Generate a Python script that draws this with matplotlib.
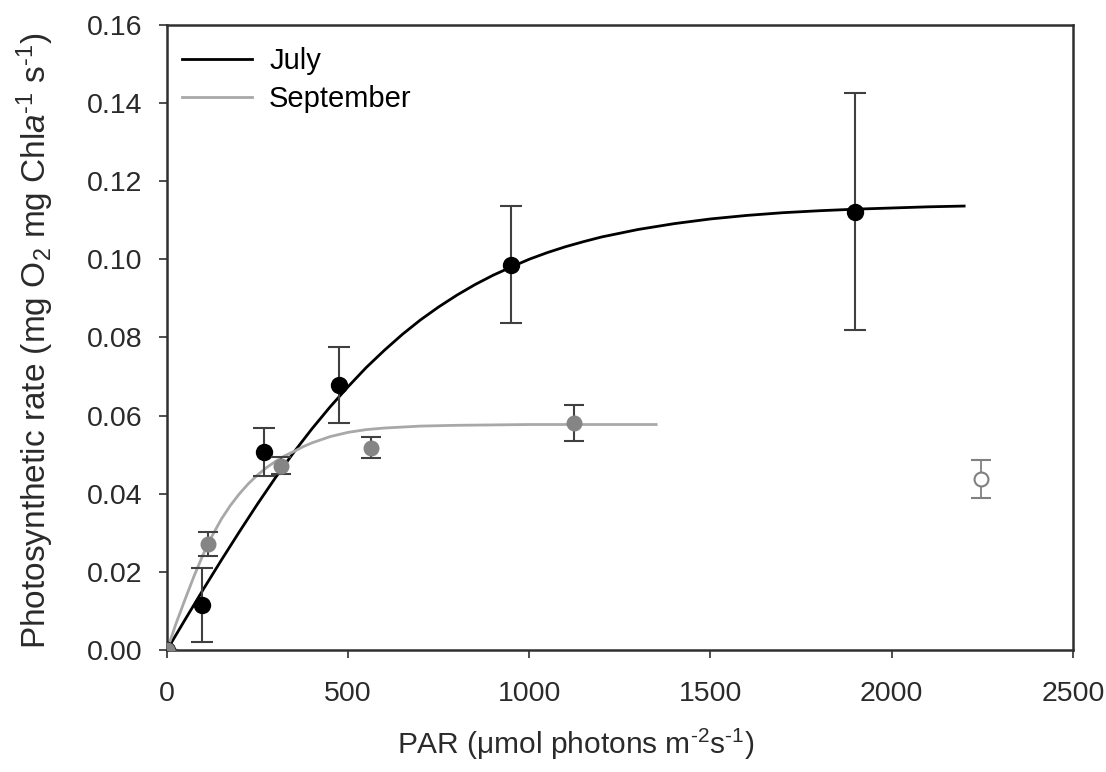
import matplotlib
matplotlib.use("Agg")
import matplotlib.pyplot as plt

plt.rcParams["font.family"] = ["Liberation Sans", "DejaVu Sans"]
plt.rcParams["mathtext.fontset"] = "custom"
plt.rcParams["mathtext.rm"] = "Liberation Sans"
plt.rcParams["mathtext.it"] = "Liberation Sans:italic"

# measured points (PAR, rate, error)
july_par = [0, 97, 268, 475, 950, 1900]
july_rate = [0.0, 0.0115, 0.0507, 0.0678, 0.0986, 0.1122]
july_err = [0.0, 0.0095, 0.0061, 0.0098, 0.0149, 0.0302]

sept_par = [0, 113, 315, 563, 1124]
sept_rate = [0.0, 0.0271, 0.0472, 0.0518, 0.0581]
sept_err = [0.0, 0.0030, 0.0021, 0.0027, 0.0045]

outlier_par = [2246]
outlier_rate = [0.0438]
outlier_err = [0.0049]

# fitted curves
july_fit_par = [0, 50, 100, 150, 200, 250, 300, 350, 400, 450, 500, 550, 600, 650,
                700, 750, 800, 850, 900, 950, 1000, 1050, 1100, 1150, 1200, 1300,
                1400, 1500, 1600, 1700, 1800, 1900, 2000, 2100, 2200]
july_fit_rate = [0.0, 0.0078, 0.0155, 0.0230, 0.0303, 0.0374, 0.0442, 0.0506,
                 0.0566, 0.0622, 0.0674, 0.0723, 0.0767, 0.0808, 0.0845, 0.0878,
                 0.0908, 0.0935, 0.0959, 0.0980, 0.1000, 0.1017, 0.1032, 0.1045,
                 0.1057, 0.1076, 0.1091, 0.1103, 0.1112, 0.1119, 0.1124, 0.1128,
                 0.1131, 0.1134, 0.1136]

sept_fit_par = [0, 25, 50, 75, 100, 125, 150, 175, 200, 225, 250, 275, 300, 325,
                350, 375, 400, 450, 500, 550, 600, 700, 800, 900, 1000, 1100,
                1200, 1350]
sept_fit_rate = [0.0, 0.0068, 0.0130, 0.0190, 0.0245, 0.0293, 0.0335, 0.0370,
                 0.0400, 0.0426, 0.0448, 0.0467, 0.0483, 0.0497, 0.0508, 0.0520,
                 0.0530, 0.0546, 0.0557, 0.0564, 0.0568, 0.0573, 0.0575, 0.0576,
                 0.0577, 0.0577, 0.0577, 0.0577]

fig = plt.figure(figsize=(11.06, 7.72), dpi=100)
ax = fig.add_axes([0.151, 0.158, 0.819, 0.810])

ax.plot(july_fit_par, july_fit_rate, color="black", lw=2.0, label="July", zorder=2)
ax.plot(sept_fit_par, sept_fit_rate, color="#a8a8a8", lw=2.0, label="September", zorder=2)

ax.errorbar(july_par, july_rate, yerr=july_err, fmt="o", color="black",
            ecolor="#404040", elinewidth=1.5, capsize=8, capthick=1.5,
            markersize=11.5, zorder=3)
ax.errorbar(sept_par, sept_rate, yerr=sept_err, fmt="o", color="#858585",
            ecolor="#404040", elinewidth=1.5, capsize=7, capthick=1.5,
            markersize=10.5, zorder=4)
ax.errorbar(outlier_par, outlier_rate, yerr=outlier_err, fmt="o", mfc="white",
            mec="#808080", mew=1.5, ecolor="#808080", elinewidth=1.3,
            capsize=7, capthick=1.3, markersize=10, zorder=4)

ax.set_xlim(0, 2500)
ax.set_ylim(0, 0.16)
ax.set_xticks([0, 500, 1000, 1500, 2000, 2500])
ax.set_yticks([0.00, 0.02, 0.04, 0.06, 0.08, 0.10, 0.12, 0.14, 0.16])
ax.set_yticklabels(["0.00", "0.02", "0.04", "0.06", "0.08", "0.10", "0.12", "0.14", "0.16"])
ax.tick_params(direction="out", length=6, width=1.2, labelsize=20.5, color="#303030",
               labelcolor="#2a2a2a")
ax.tick_params(axis="y", pad=12)
ax.tick_params(axis="x", pad=16)

for s in ax.spines.values():
    s.set_linewidth(1.8)
    s.set_color("#303030")

ax.set_xlabel(r"PAR ($\mathrm{\mu}$mol photons m$^{\text{-}2}$s$^{\text{-}1}$)", fontsize=21.5,
              color="#2a2a2a")
ax.xaxis.set_label_coords(0.451, -0.123)
ax.set_ylabel(r"Photosynthetic rate (mg O$_2$ mg Chl$\it{a}$$^{\text{-}1}$ s$^{\text{-}1}$)",
              fontsize=24, color="#2a2a2a")
ax.yaxis.set_label_coords(-0.122, 0.494)

ax.legend(loc="upper left", bbox_to_anchor=(0.0, 0.987), frameon=False, fontsize=21,
          handlelength=2.4, borderaxespad=0.1, labelspacing=0.32, handletextpad=0.6)

fig.savefig("out.png", dpi=100)
